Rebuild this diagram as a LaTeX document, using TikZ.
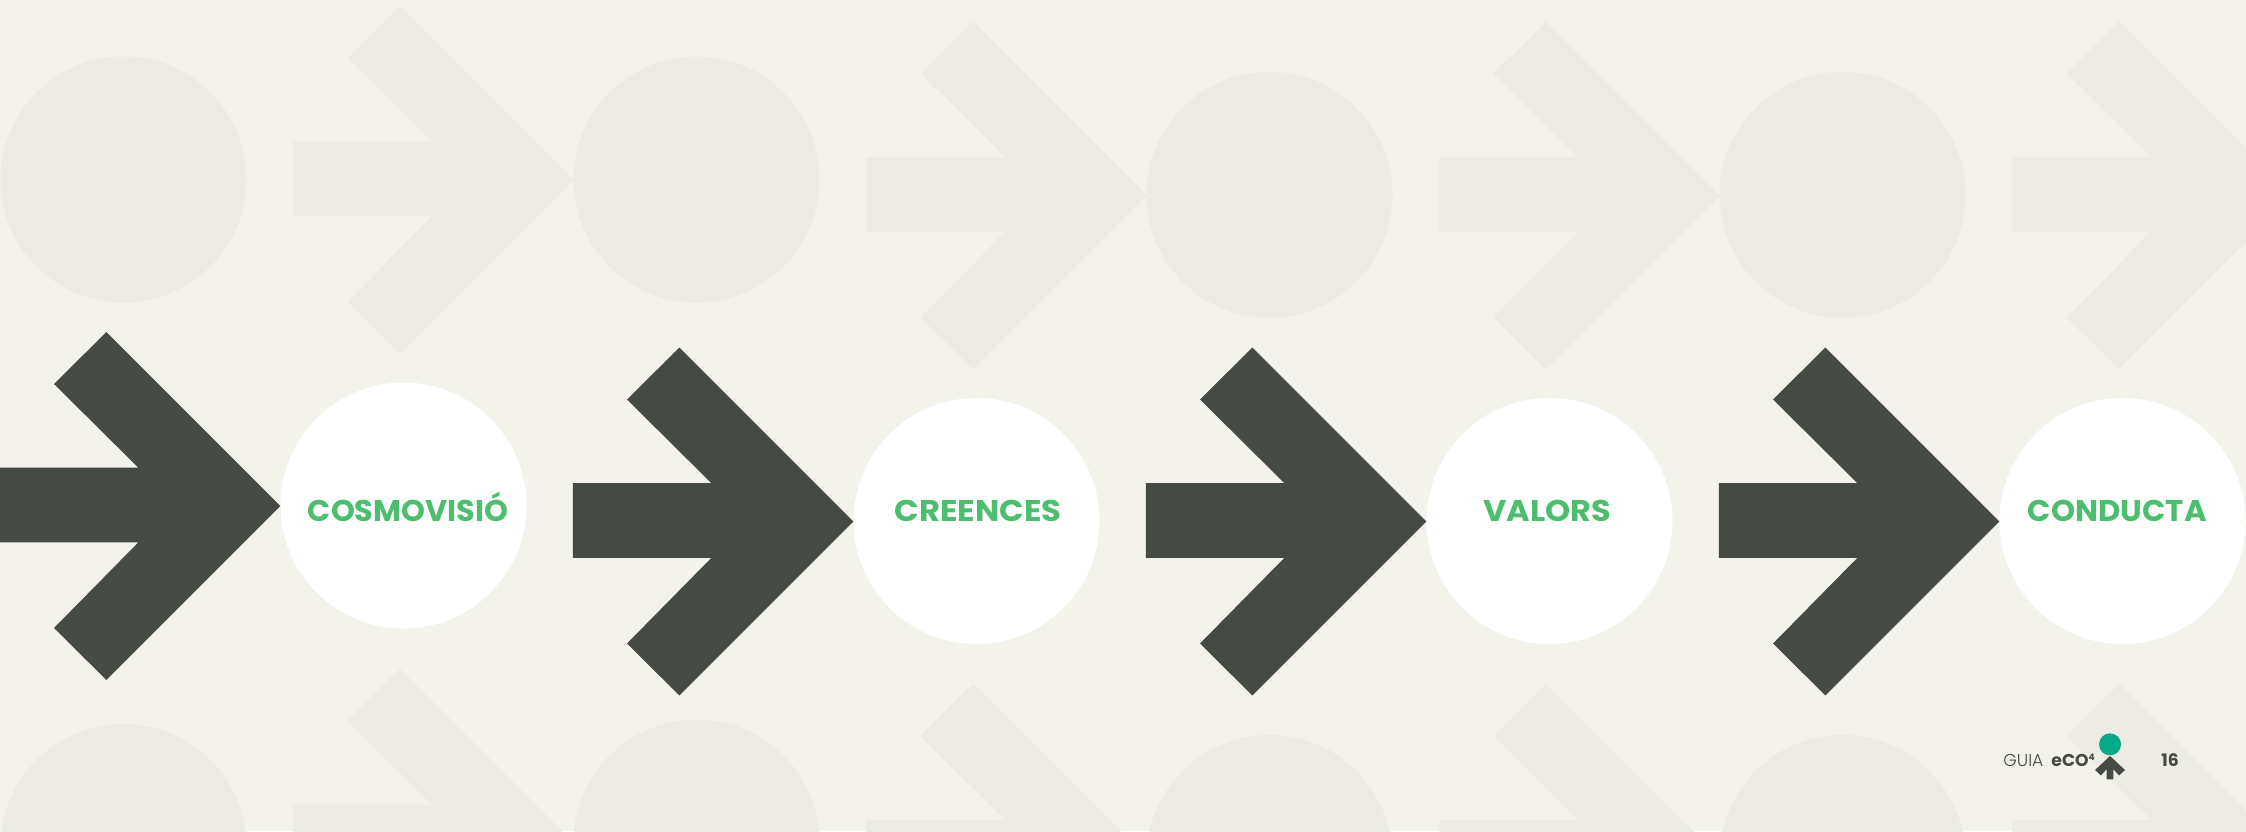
\documentclass[tikz,border=0pt]{standalone}
\usepackage{fontspec}
\setmainfont{Poppins}
\newfontfamily\lightfont{Poppins Light}
\definecolor{bgc}{HTML}{F3F3EB}
\definecolor{lightc}{HTML}{ECECE4}
\definecolor{darkc}{HTML}{464A45}
\definecolor{greenc}{HTML}{4CBE6E}
\definecolor{tealc}{HTML}{05A987}
\newcommand{\arrowshape}[3]{% tip x, tip y, colour
  \fill[#3] (#1,#2) -- ++(-174,-174) -- ++(-52.4,52) -- ++(84.4,83.7) -- ++(-138.6,0)
    -- ++(0,74.6) -- ++(138.6,0) -- ++(-84.4,85.7) -- ++(52.4,52) -- cycle;}
\tikzset{
  softdisc/.style={circle,fill=lightc,minimum size=123pt,inner sep=0pt,outer sep=0pt},
  whitedisc/.style={circle,fill=white,minimum size=123pt,inner sep=0pt,outer sep=0pt},
  word/.style={text=greenc,font=\fontsize{15pt}{17pt}\selectfont\bfseries,inner sep=0pt,anchor=base},
  foot/.style={text=darkc,inner sep=0pt}
}
\begin{document}
\begin{tikzpicture}[x=0.5pt,y=-0.5pt]
\useasboundingbox (0,0) rectangle (2246,831);
\clip (0,0) rectangle (2246,831);
\fill[bgc] (0,0) rectangle (2246,831);
% background top row
\node[softdisc] (t1) at (123.5,179.5) {};
\node[softdisc] (t2) at (696.5,179.5) {};
\node[softdisc] (t3) at (1269.5,194.8) {};
\node[softdisc] (t4) at (1842.5,194.8) {};
\arrowshape{574}{180}{lightc}
\arrowshape{1147}{195.5}{lightc}
\arrowshape{1720}{195.5}{lightc}
\arrowshape{2293}{195.5}{lightc}
% background bottom row
\node[softdisc] (b1) at (123.5,847) {};
\node[softdisc] (b2) at (696.5,842.5) {};
\node[softdisc] (b3) at (1269.5,858) {};
\node[softdisc] (b4) at (1842.5,858) {};
\arrowshape{574}{843}{lightc}
\arrowshape{1147}{858}{lightc}
\arrowshape{1720}{858}{lightc}
\arrowshape{2293}{858}{lightc}
% main row
\node[whitedisc] (w1) at (403.5,505.5) {};
\node[whitedisc] (w2) at (976.5,521) {};
\node[whitedisc] (w3) at (1549.5,521) {};
\node[whitedisc] (w4) at (2122.5,521) {};
\arrowshape{280.4}{506}{darkc}
\arrowshape{853.4}{521.5}{darkc}
\arrowshape{1426.4}{521.5}{darkc}
\arrowshape{1999.4}{521.5}{darkc}
\node[word] (c1) at (408,521.3) {\scalebox{1.013}[1]{COSMOVISIÓ}};
\node[word] (c2) at (978,521.3) {\scalebox{1.077}[1]{CREENCES}};
\node[word] (c3) at (1547,521.3) {\scalebox{1.067}[1]{VALORS}};
\node[word] (c4) at (2117.3,521.3) {\scalebox{1.023}[1]{CONDUCTA}};
% footer
\node[foot,anchor=base west,font=\fontsize{8.6pt}{10pt}\selectfont\lightfont] (g) at (2003,766) {GUIA};
\node[foot,anchor=base west,font=\fontsize{8.6pt}{10pt}\selectfont\bfseries] (e) at (2051,766) {eCO\raisebox{3pt}{\fontsize{4.5pt}{5pt}\selectfont 4}};
\node[foot,anchor=base west,font=\fontsize{8.6pt}{10pt}\selectfont\bfseries] (n) at (2161,766) {16};
\node[circle,fill=tealc,minimum size=11pt,inner sep=0pt,outer sep=0pt] (m) at (2110,744.3) {};
\fill[darkc] (2110,756) -- (2125,770) -- (2119,775.5) -- (2113.3,769) -- (2113.3,779.3) -- (2106.7,779.3) -- (2106.7,769) -- (2101,775.5) -- (2095,770) -- cycle;
\end{tikzpicture}
\end{document}
